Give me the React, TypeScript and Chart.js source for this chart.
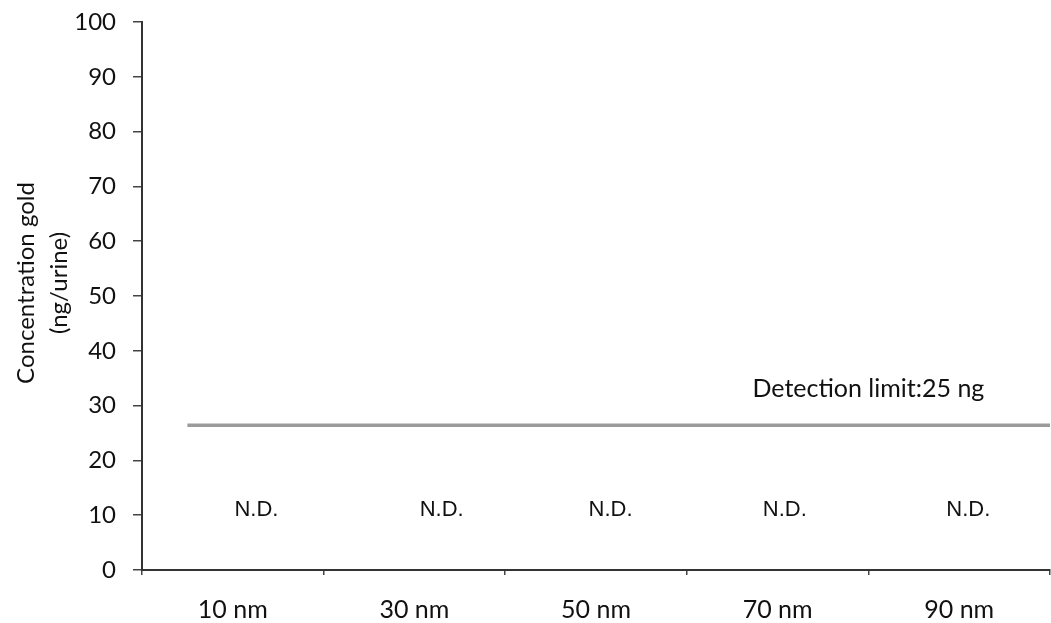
import React, { useEffect, useRef } from 'react';
import { Chart, registerables } from 'chart.js';

Chart.register(...registerables);

const categories = ['10 nm', '30 nm', '50 nm', '70 nm', '90 nm'];
const ndLabel = 'N.D.';
const ndX = [0.63, 1.65, 2.58, 3.54, 4.55];
const ndValues = [10.9, 10.9, 10.9, 10.9, 10.9];
const yMin = 0;
const yMax = 100;
const yStep = 10;
const detectionLimitX = [0.25, 5];
const detectionLimitY = [26.4, 26.4];
const detectionLabel = 'Detection limit:25 ng';
const detectionLabelX = 4.0;
const detectionLabelY = 33;
const yTitle = ['Concentration gold', '(ng/urine)'];

const FONT = 'Lato, "Open Sans", sans-serif';
const ND_FONT = '"Liberation Sans", Arial, sans-serif';

export default function App() {
  const ref = useRef<HTMLCanvasElement | null>(null);

  useEffect(() => {
    document.body.style.margin = '0';
    const canvas = ref.current;
    if (!canvas) return;

    const textPlugin = {
      id: 'annotText',
      afterDatasetsDraw(chart: any) {
        const ctx = chart.ctx;
        const xl = chart.scales.xl;
        const ys = chart.scales.y;
        const area = chart.chartArea;
        ctx.save();
        ctx.fillStyle = '#111';
        ctx.textAlign = 'center';
        ctx.textBaseline = 'middle';
        ctx.font = `22px ${ND_FONT}`;
        ndValues.forEach((v, i) => {
          ctx.fillText(ndLabel, xl.getPixelForValue(ndX[i]), ys.getPixelForValue(v));
        });
        ctx.font = `25px ${FONT}`;
        ctx.fillText(detectionLabel, xl.getPixelForValue(detectionLabelX), ys.getPixelForValue(detectionLabelY));
        // y-axis title (two lines, rotated)
        ctx.font = `24px ${FONT}`;
        const cy = (area.top + area.bottom) / 2 - 13;
        const lineXs = [26, 59];
        yTitle.forEach((t, i) => {
          ctx.save();
          ctx.translate(lineXs[i], cy);
          ctx.rotate(-Math.PI / 2);
          ctx.fillText(t, 0, 0);
          ctx.restore();
        });
        ctx.restore();
      },
    };

    const chart = new Chart(canvas, {
      type: 'line',
      data: {
        labels: categories,
        datasets: [
          {
            label: 'Detection limit',
            data: detectionLimitX.map((x, i) => ({ x, y: detectionLimitY[i] })),
            xAxisID: 'xl',
            yAxisID: 'y',
            borderColor: '#9b9b9b',
            borderWidth: 3.5,
            pointRadius: 0,
            fill: false,
          },
        ],
      },
      options: {
        responsive: false,
        animation: false,
        layout: { padding: { top: 22, right: 1, left: 0, bottom: 0 } },
        plugins: {
          legend: { display: false },
          tooltip: { enabled: false },
        },
        scales: {
          x: {
            type: 'category',
            offset: true,
            grid: {
              offset: true,
              drawOnChartArea: false,
              drawTicks: true,
              tickLength: 5,
              color: '#444',
              lineWidth: 1.5,
            },
            border: { color: '#333', width: 2 },
            ticks: { color: '#111', font: { family: FONT, size: 25 }, padding: 20 },
            afterFit: (s: any) => {
              s.height = 53;
              s.paddingLeft = 0;
              s.paddingRight = 0;
            },
          },
          xl: {
            type: 'linear',
            min: 0,
            max: 5,
            display: false,
          },
          y: {
            min: yMin,
            max: yMax,
            ticks: {
              stepSize: yStep,
              color: '#111',
              font: { family: FONT, size: 24 },
              padding: 17,
            },
            grid: {
              drawOnChartArea: false,
              drawTicks: true,
              tickLength: 9,
              color: '#444',
              lineWidth: 1.5,
            },
            border: { color: '#333', width: 2 },
            title: { display: false },
            afterFit: (s: any) => {
              s.width = 142;
              s.paddingTop = 0;
              s.paddingBottom = 0;
            },
          },
        },
      },
      plugins: [textPlugin],
    });

    return () => chart.destroy();
  }, []);

  return <canvas ref={ref} width={1051} height={623} style={{ display: 'block' }} />;
}
